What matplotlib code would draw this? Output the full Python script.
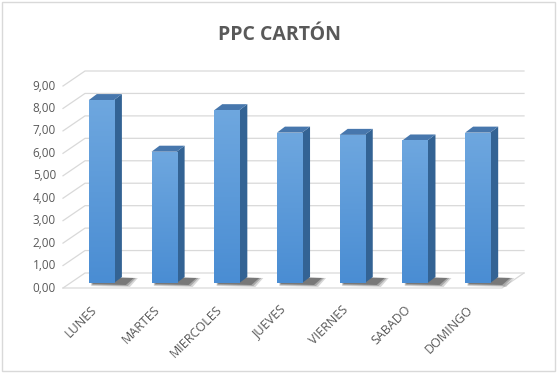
import numpy as np
import matplotlib.pyplot as plt
from matplotlib.patches import Polygon, Rectangle
from matplotlib.transforms import ScaledTranslation, IdentityTransform
from matplotlib.colors import LinearSegmentedColormap

dias = ["LUNES", "MARTES", "MIERCOLES", "JUEVES", "VIERNES", "SABADO", "DOMINGO"]
ppc = [8.15, 5.85, 7.70, 6.70, 6.60, 6.35, 6.70]
ticks = [0, 1, 2, 3, 4, 5, 6, 7, 8, 9]
tick_labels = ["%.2f" % t for t in ticks]
tick_labels = [t.replace(".", ",") for t in tick_labels]

DPI = 100
fig = plt.figure(figsize=(5.57, 3.73), dpi=DPI)
fig.patches.append(Rectangle((0.004, 0.005), 0.992, 0.99, transform=fig.transFigure,
                             fill=False, edgecolor="#d9d9d9", linewidth=1))

W, H = 557, 373
ax = fig.add_axes([63 / W, (H - 288) / H, 439 / W, 202 / H])
ax.set_xlim(-0.5, 6.5)
ax.set_ylim(0, 9)
ax.axis("off")

fig.text(280 / W, 1 - 35 / H, "PPC CARTÓN", ha="center", va="center",
         fontsize=14, fontweight="bold", color="#595959", family="Open Sans")

grid_c = "#d9d9d9"
back_dx, back_dy = 22, 15


def disp(x, y, dx=0, dy=0):
    p = ax.transData.transform((x, y))
    return (p[0] + dx, p[1] + dy)


# back wall gridlines + diagonal connectors
for t, lab in zip(ticks, tick_labels):
    a = disp(-0.5, t)
    b = disp(-0.5, t, back_dx, back_dy)
    c = disp(6.5, t, back_dx, back_dy)
    ax.add_line(plt.Line2D([a[0], b[0], c[0]], [a[1], b[1], c[1]], transform=IdentityTransform(),
                           color=grid_c, lw=0.9, clip_on=False, zorder=0.5))
    ax.text(-0.5, t, lab, transform=ax.transData + ScaledTranslation(-7 / DPI, 0, fig.dpi_scale_trans),
            ha="right", va="center", fontsize=8.5, color="#595959", family="Open Sans")

# floor front edge and right edge
f0 = disp(-0.5, 0)
f1 = disp(6.5, 0)
f2 = disp(6.5, 0, back_dx, back_dy)
ax.add_line(plt.Line2D([f0[0], f1[0], f2[0]], [f0[1], f1[1], f2[1]], transform=IdentityTransform(),
                       color=grid_c, lw=0.9, clip_on=False, zorder=0.5))

# bars (pseudo 3D)
x = np.arange(len(dias))
bw = 0.40
off_x, off_y = 7, 5      # bar front face inset into the floor depth
dep_x, dep_y = 8, 6      # bar depth
front_cmap = LinearSegmentedColormap.from_list("f", ["#4a8dd3", "#6ea7df"])
grad = np.linspace(0, 1, 100).reshape(-1, 1)
off = ax.transData + ScaledTranslation(off_x / DPI, off_y / DPI, fig.dpi_scale_trans)

for xi, v in zip(x, ppc):
    l, r = xi - bw / 2, xi + bw / 2
    # shadow on the floor
    for k, a in [(0, 0.35), (2, 0.25), (4, 0.18)]:
        s = [disp(l, 0, off_x + 2, off_y - 1 - k / 2),
             disp(r, 0, off_x + 12 + k, off_y - 2 - k / 2),
             disp(r, 0, off_x + dep_x + 12 + k, off_y + dep_y - 1),
             disp(l, 0, off_x + dep_x + 2, off_y + dep_y)]
        ax.add_patch(Polygon(s, closed=True, transform=IdentityTransform(),
                             facecolor="#202020", edgecolor="none", alpha=a, clip_on=False, zorder=1))
    # side face
    side = [disp(r, 0, off_x, off_y), disp(r, v, off_x, off_y),
            disp(r, v, off_x + dep_x, off_y + dep_y), disp(r, 0, off_x + dep_x, off_y + dep_y)]
    ax.add_patch(Polygon(side, closed=True, transform=IdentityTransform(),
                         facecolor="#336394", edgecolor="none", clip_on=False, zorder=3))
    # top face
    top = [disp(l, v, off_x, off_y), disp(r, v, off_x, off_y),
           disp(r, v, off_x + dep_x, off_y + dep_y), disp(l, v, off_x + dep_x, off_y + dep_y)]
    ax.add_patch(Polygon(top, closed=True, transform=IdentityTransform(),
                         facecolor="#4777ad", edgecolor="none", clip_on=False, zorder=3))

bars = ax.bar(x, ppc, width=bw, color="#5b9bd5", transform=off, clip_on=False, zorder=4)
for b, v in zip(bars, ppc):
    im = ax.imshow(grad, cmap=front_cmap, aspect="auto", origin="lower",
                   extent=[b.get_x(), b.get_x() + bw, 0, v], zorder=4.5)
    im.set_transform(off)
    im.set_clip_path(b)

ax.set_xlim(-0.5, 6.5)
ax.set_ylim(0, 9)

# category labels
for xi, d in zip(x, dias):
    ax.text(xi, 0, d, transform=ax.transData + ScaledTranslation(-4 / DPI, -15 / DPI, fig.dpi_scale_trans),
            rotation=45, ha="right", va="top", rotation_mode="anchor",
            fontsize=9, color="#595959", family="Open Sans")

fig.savefig("out.png", dpi=DPI)
